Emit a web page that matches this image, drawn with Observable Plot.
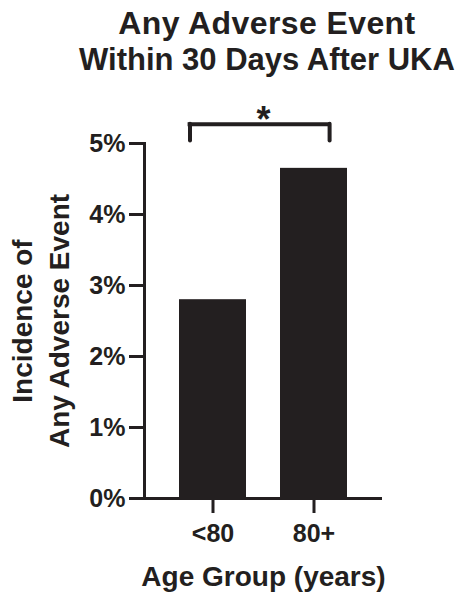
<!DOCTYPE html>
<html>
<head>
<meta charset="utf-8">
<script src="https://cdn.jsdelivr.net/npm/d3@7"></script>
<script src="https://cdn.jsdelivr.net/npm/@observablehq/plot@0.6"></script>
<style>
  body { margin: 0; background: #fff; font-family: "Liberation Sans", Arial, Helvetica, sans-serif; color: #231f20; }
  #title { width: 469px; height: 80px; box-sizing: border-box; padding: 5px 0 0 65px; text-align: center;
           font-weight: bold; font-size: 31px; line-height: 36px; white-space: nowrap; }
  #title span.l1 { font-size: 32px; letter-spacing: 0.4px; }
  #chart svg { display: block; }
</style>
</head>
<body>
<div id="title"></div>
<div id="chart"></div>
<script>
// ---- data ----
const titleLines = ["Any Adverse Event", "Within 30 Days After UKA"];
const categories = ["<80", "80+"];
const values = [2.8, 4.65];          // incidence, %
const yTicks = [0, 1, 2, 3, 4, 5];
const yLabelLines = ["Incidence of", "Any Adverse Event"];
const xLabel = "Age Group (years)";
const sigLabel = "*";
const sigPair = ["<80", "80+"];

// ---- build ----
const titleEl = document.getElementById("title");
titleLines.forEach((t, i) => {
  const s = document.createElement("span");
  s.className = "l" + (i + 1);
  s.textContent = t;
  titleEl.appendChild(s);
  if (i < titleLines.length - 1) titleEl.appendChild(document.createElement("br"));
});
const ink = "#231f20";
const data = categories.map((c, i) => ({group: c, value: values[i]}));
const bracket = [{y: 5.27, a: sigPair[0], b: sigPair[1]}];

const chart = Plot.plot({
  width: 469,
  height: 513,
  marginTop: 63,
  marginBottom: 95,
  marginLeft: 144,
  marginRight: 87,
  style: {fontFamily: "'Liberation Sans', Arial, Helvetica, sans-serif", fontWeight: "bold", color: ink, background: "white", overflow: "visible"},
  x: {type: "band", domain: categories, paddingInner: 0.337, paddingOuter: 0.342, axis: null, label: null},
  y: {domain: [0, 5], axis: null, label: null},
  marks: [
    Plot.barY(data, {x: "group", y: "value", fill: ink}),
    Plot.axisY({ticks: yTicks, tickSize: 15, tickPadding: 4, tickFormat: d => `${d}%`, fontSize: 25, strokeWidth: 3, label: null}),
    Plot.axisX({tickSize: 15, tickPadding: 11, fontSize: 25, strokeWidth: 3, label: null}),
    Plot.ruleY([0], {stroke: ink, strokeWidth: 3}),
    Plot.frame({anchor: "left", stroke: ink, strokeWidth: 3}),
    Plot.text([yLabelLines.join("\n")], {frameAnchor: "left", textAnchor: "middle", rotate: -90, dx: -106, fontSize: 28, lineHeight: 1.32, lineAnchor: "middle", fill: ink}),
    Plot.text([xLabel], {frameAnchor: "bottom", dy: 87, lineAnchor: "bottom", fontSize: 28, fill: ink}),
    // significance bracket
    Plot.ruleY(bracket, {y: "y", x1: "a", x2: "b", insetLeft: 8.6, insetRight: 16, stroke: ink, strokeWidth: 4}),
    Plot.ruleX([sigPair[0]], {y1: 5.036, y2: 5.27, dx: -23, stroke: ink, strokeWidth: 4, strokeLinecap: "round"}),
    Plot.ruleX([sigPair[1]], {y1: 5.036, y2: 5.27, dx: 15.6, stroke: ink, strokeWidth: 4, strokeLinecap: "round"}),
    Plot.text([sigLabel], {y: 5.16, lineAnchor: "bottom", fontSize: 36, fill: ink})
  ]
});
document.getElementById("chart").appendChild(chart);
</script>
</body>
</html>
